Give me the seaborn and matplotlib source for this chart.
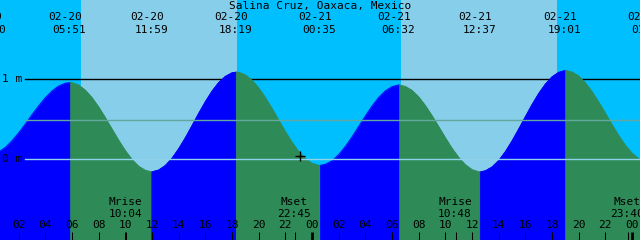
import numpy as np
import pandas as pd
import matplotlib
matplotlib.use("Agg")
import matplotlib.pyplot as plt
import seaborn as sns

# ---------------- data ----------------
title = "Salina Cruz, Oaxaca, Mexico"

# tide height readings (m), every 30 minutes from 02-20 00:00
sample_hours = np.arange(0.0, 49.01, 0.5)
heights = [
    0.055, 0.089, 0.147, 0.230, 0.330, 0.441, 0.558, 0.669, 0.771, 0.855,
    0.917, 0.952, 0.958, 0.929, 0.864, 0.771, 0.653, 0.518, 0.376, 0.235,
    0.105, -0.006, -0.090, -0.141, -0.160, -0.138, -0.081, 0.010, 0.129, 0.267,
    0.419, 0.573, 0.720, 0.852, 0.960, 1.037, 1.082, 1.088, 1.055, 0.989,
    0.893, 0.773, 0.636, 0.490, 0.346, 0.212, 0.095, 0.005, -0.054, -0.080,
    -0.066, -0.021, 0.056, 0.159, 0.279, 0.410, 0.542, 0.666, 0.774, 0.856,
    0.909, 0.930, 0.912, 0.862, 0.780, 0.671, 0.544, 0.406, 0.267, 0.135,
    0.020, -0.070, -0.132, -0.159, -0.148, -0.100, -0.019, 0.092, 0.227, 0.376,
    0.531, 0.683, 0.822, 0.940, 1.031, 1.088, 1.110, 1.092, 1.041, 0.957,
    0.847, 0.718, 0.577, 0.433, 0.296, 0.174, 0.074, 0.004, -0.035,
]

# high / low tide events
event_dates = ["02-19", "02-20", "02-20", "02-20", "02-21", "02-21", "02-21", "02-21", "02-22"]
event_times = ["23:50", "05:51", "11:59", "18:19", "00:35", "06:32", "12:37", "19:01", "01:16"]
event_heights = [0.05, 0.96, -0.16, 1.09, -0.08, 0.93, -0.16, 1.11, -0.04]

# sunrise / sunset (daylight spans)
sun_dates = ["02-20", "02-20", "02-21", "02-21"]
sun_times = ["06:40", "18:22", "06:40", "18:22"]

# moon events
moon_names = ["Mrise", "Mset", "Mrise", "Mset"]
moon_dates = ["02-20", "02-20", "02-21", "02-21"]
moon_times = ["10:04", "22:45", "10:48", "23:40"]

# hour ticks
tick_hours = list(range(2, 49, 2))
tick_labels = ["02", "04", "06", "08", "10", "12", "14", "16", "18", "20", "22", "00",
               "02", "04", "06", "08", "10", "12", "14", "16", "18", "20", "22", "00"]

level_labels = ["1 m", "0 m"]
level_values = [1.0, 0.0]
msl_level = 0.485

now_hour = 23.1
now_height = 0.04

# ---------------- helpers ----------------
def to_hours(date, hm):
    day = int(date.split("-")[1]) - 20
    h, m = hm.split(":")
    return day * 24 + int(h) + int(m) / 60.0

NIGHT = "#00BFFF"
DAY = "#87CEEB"
RISE = "#0000FF"
FALL = "#2E8B57"

PX_PER_H = 640 / 48.0
X0, X1 = 0.6, 48.6
Y0 = -(240 - 159) / 79.7
Y1 = 159 / 79.7

def ypx(p):
    return 1 - p / 240.0

ev_h = [to_hours(d, t) for d, t in zip(event_dates, event_times)]

# segments between consecutive events
rows = []
for i in range(len(ev_h) - 1):
    ta, tb = ev_h[i], ev_h[i + 1]
    phase = "rise" if event_heights[i + 1] > event_heights[i] else "fall"
    ts = [ta] + [t for t in sample_hours if ta < t < tb] + [tb]
    hs = [event_heights[i]] + [h for t, h in zip(sample_hours, heights) if ta < t < tb] + [event_heights[i + 1]]
    for t, h in zip(ts, hs):
        rows.append({"t": t, "h": h, "seg": i, "phase": phase})
df = pd.DataFrame(rows)

# ---------------- figure ----------------
fig = plt.figure(figsize=(6.4, 2.4), dpi=100)
ax = fig.add_axes([0, 0, 1, 1])
ax.set_facecolor(NIGHT)
for s in ax.spines.values():
    s.set_visible(False)

sun_h = [to_hours(d, t) for d, t in zip(sun_dates, sun_times)]
for a, b in zip(sun_h[0::2], sun_h[1::2]):
    ax.axvspan(a, b, color=DAY, lw=0, zorder=0)

# 1 m line (behind the water)
ax.axhline(level_values[0], xmin=25 / 640, color="black", lw=1.0, zorder=1)

for seg, g in df.groupby("seg"):
    col = RISE if g["phase"].iloc[0] == "rise" else FALL
    ax.fill_between(g["t"], g["h"], Y0 - 1, color=col, lw=0.4, ec=col, zorder=2)

sns.lineplot(data=df, x="t", y="h", hue="phase", units="seg", estimator=None,
             palette={"rise": RISE, "fall": FALL}, linewidth=0.6, legend=False,
             sort=False, ax=ax, zorder=2)

# mean level and datum lines over the water
ax.axhline(msl_level, xmin=25 / 640, color="#62A89E", lw=1.0, zorder=3)
ax.axhline(level_values[1], xmin=25 / 640, color="#8FD3EA", lw=1.0, zorder=3)

ax.set_xlim(X0, X1)
ax.set_ylim(Y0, Y1)
ax.set_xticks([])
ax.set_yticks([])
ax.set_xlabel("")
ax.set_ylabel("")

FONT = dict(family="DejaVu Sans Mono", fontsize=8, color="black")
xt = ax.get_xaxis_transform()

ax.text(0.5, ypx(6), title, transform=ax.transAxes, ha="center", va="center", **FONT)

for t, d, tm in zip(ev_h, event_dates, event_times):
    ax.text(t - 5 / PX_PER_H, ypx(16.7), d, transform=xt, ha="center", va="center", **FONT)
    ax.text(t - 0.5 / PX_PER_H, ypx(29.7), tm, transform=xt, ha="center", va="center", **FONT)

for lab, v in zip(level_labels, level_values):
    ax.text(1.5 / 640, v, lab, transform=ax.get_yaxis_transform(), ha="left",
            va="center", **FONT)

moon_h = [to_hours(d, t) for d, t in zip(moon_dates, moon_times)]
for t, n, tm in zip(moon_h, moon_names, moon_times):
    ax.text(t - 1 / PX_PER_H, ypx(202), n, transform=xt, ha="center", va="center", **FONT)
    ax.text(t - 1 / PX_PER_H, ypx(213.7), tm, transform=xt, ha="center", va="center", **FONT)
    ax.vlines(t, 0, 8.3 / 240, transform=xt, color="black", lw=0.75, zorder=4)

for t, lab in zip(tick_hours, tick_labels):
    ax.text(t, ypx(225.5), lab, transform=xt, ha="center", va="center", **FONT)
    lw = 2.0 if lab == "00" else 0.75
    ax.vlines(t, 0, 8.3 / 240, transform=xt, color="black", lw=lw, zorder=4)

ax.plot([now_hour], [now_height], marker="+", ms=6.5, mew=1.0, color="black",
        ls="none", zorder=5)

fig.savefig("out.png", dpi=100, facecolor=NIGHT)
